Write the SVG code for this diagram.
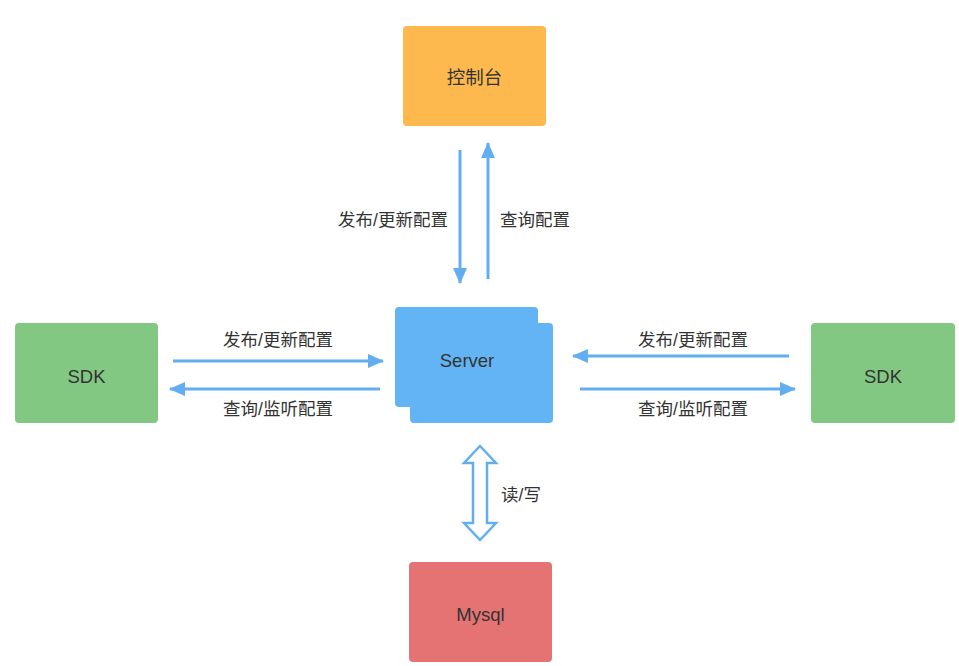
<svg xmlns="http://www.w3.org/2000/svg" width="959" height="666" viewBox="0 0 959 666">
<defs>
<style>
.lbl{font-family:"Liberation Sans","Noto Sans CJK SC",sans-serif;font-size:17.5px;fill:#333;text-anchor:middle;dominant-baseline:central}
.node-t{font-family:"Liberation Sans","Noto Sans CJK SC",sans-serif;font-size:18.5px;fill:#333;text-anchor:middle;dominant-baseline:central}
.ln{stroke:#62AEF0;stroke-width:3;fill:none}
</style>
<marker id="ah" viewBox="0 0 16 14" refX="15" refY="7" markerWidth="16" markerHeight="14" markerUnits="userSpaceOnUse" orient="auto">
<path d="M0,0 L16,7 L0,14 Z" fill="#62AEF0"/>
</marker>
</defs>
<rect width="959" height="666" fill="#fff"/>
<g id="console"><rect x="403" y="26" width="143" height="100" rx="4" fill="#FDB84E"/><text class="node-t" x="474.5" y="77">控制台</text></g>
<g id="sdk-left"><rect x="15" y="323" width="143" height="100" rx="4" fill="#82C882"/><text class="node-t" x="86.5" y="376">SDK</text></g>
<g id="sdk-right"><rect x="811" y="323" width="144" height="100" rx="4" fill="#82C882"/><text class="node-t" x="883" y="376">SDK</text></g>
<g id="server"><rect x="410" y="323" width="143" height="100" rx="4" fill="#62B4F4"/><rect x="395" y="307" width="143" height="100" rx="4" fill="#62B4F4"/><text class="node-t" x="467" y="360">Server</text></g>
<g id="mysql"><rect x="409" y="562" width="143" height="100" rx="4" fill="#E57373"/><text class="node-t" x="480.5" y="614">Mysql</text></g>
<g id="connectors">
<line class="ln" x1="460" y1="150" x2="460" y2="283" marker-end="url(#ah)"/>
<line class="ln" x1="488" y1="279" x2="488" y2="143" marker-end="url(#ah)"/>
<line class="ln" x1="173" y1="361" x2="383" y2="361" marker-end="url(#ah)"/>
<line class="ln" x1="380" y1="389" x2="170" y2="389" marker-end="url(#ah)"/>
<line class="ln" x1="789" y1="356" x2="573" y2="356" marker-end="url(#ah)"/>
<line class="ln" x1="580" y1="389" x2="795" y2="389" marker-end="url(#ah)"/>
<path d="M480,446 L496,463 L487,463 L487,523 L496,523 L480,540 L464,523 L473,523 L473,463 L464,463 Z" fill="#fff" stroke="#62AEF0" stroke-width="2.5" stroke-linejoin="miter"/>
<text class="lbl" x="393" y="220">发布/更新配置</text>
<text class="lbl" x="535" y="220">查询配置</text>
<text class="lbl" x="278" y="340">发布/更新配置</text>
<text class="lbl" x="278" y="409">查询/监听配置</text>
<text class="lbl" x="693" y="340">发布/更新配置</text>
<text class="lbl" x="693" y="409">查询/监听配置</text>
<text class="lbl" x="521" y="495">读/写</text>
</g>
</svg>
